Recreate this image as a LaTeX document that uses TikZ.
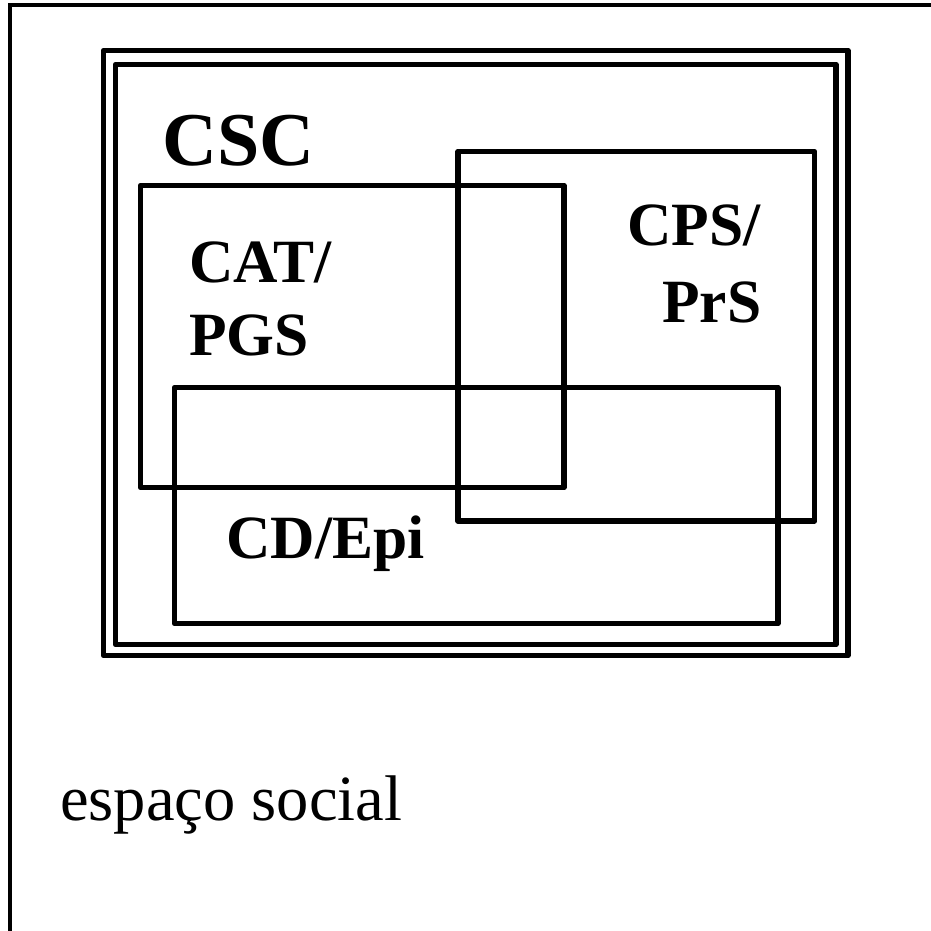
\documentclass[tikz,border=0pt]{standalone}
\usepackage{fontspec}
\setmainfont{Liberation Serif}
\begin{document}
\begin{tikzpicture}[x=1pt,y=-1pt,
  frameline/.style={line width=3.8pt,line cap=rect},
  boxline/.style={draw,line width=5.6pt,line join=round},
  lbl/.style={anchor=base west,inner sep=0pt,font=\bfseries\fontsize{61.5}{61.5}\selectfont},
  biglbl/.style={anchor=base west,inner sep=0pt,font=\bfseries\fontsize{76}{76}\selectfont},
  plainlbl/.style={anchor=base west,inner sep=0pt,font=\fontsize{64.5}{64.5}\selectfont}]
  \useasboundingbox (0,0) rectangle (931,930);
  % outer space: left and top edges only
  \coordinate (fl) at (10,930);
  \coordinate (fc) at (10,5);
  \coordinate (fr) at (931,5);
  \draw[frameline] (fl) -- (fc) -- (fr);
  % double frame
  \draw[boxline] (103.5,50.5) rectangle (848,655.5);
  \draw[boxline] (115.5,64.5) rectangle (836,644.5);
  % overlapping fields
  \draw[boxline] (140.5,185.5) rectangle (564,487.5);
  \draw[boxline] (458,151.5) rectangle (814.5,521);
  \draw[boxline] (174.5,387.5) rectangle (778,623.5);
  % labels
  \node[biglbl] (csc) at (162,165) {CSC};
  \node[lbl] (cat) at (189,282) {CAT/};
  \node[lbl] (pgs) at (189,355) {PGS};
  \node[lbl] (cps) at (627,245) {CPS/};
  \node[lbl] (prs) at (662,322) {PrS};
  \node[lbl] (cd) at (226,558) {CD/Epi};
  \node[plainlbl] (esp) at (60,820) {espaço social};
\end{tikzpicture}
\end{document}
